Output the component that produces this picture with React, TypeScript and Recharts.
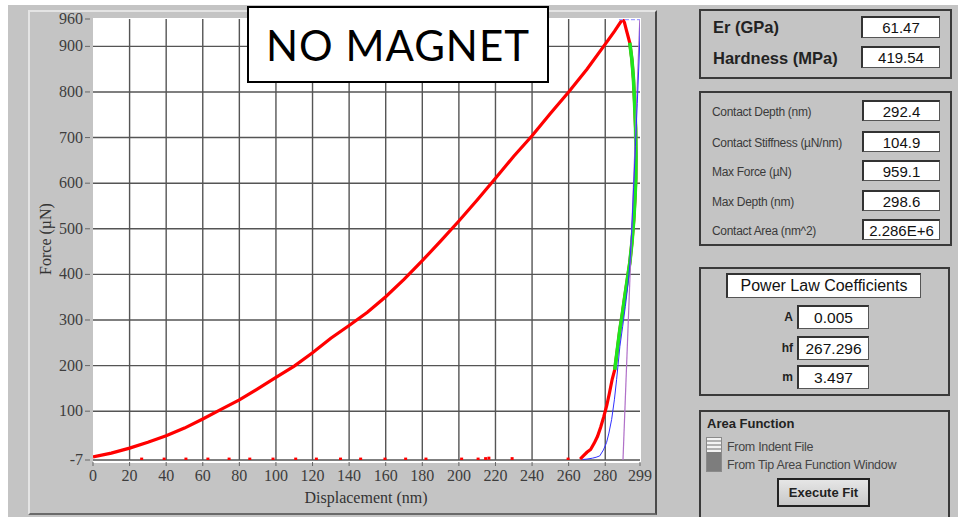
import React from 'react';
import { ComposedChart, Line, Scatter, XAxis, YAxis, CartesianGrid } from 'recharts';

// loading curve (red), displacement nm / force uN
const loadX = [0, 10, 20, 30, 40, 50, 60, 70, 80, 90, 100, 110, 120, 130, 140, 150, 160, 170, 180, 190, 200, 210, 220, 230, 240, 250, 260, 270, 280, 285, 289.5];
const loadF = [0, 8, 19, 32, 46, 63, 83, 104, 125, 149, 174, 199, 228, 260, 288, 317, 351, 389, 430, 473, 517, 563, 611, 659, 704, 753, 800, 850, 905, 933, 960];

// unloading: top of the peak, fitted window (green), tail
const peakX = [289.5, 290.5, 291.6, 292.6];
const peakF = [960, 952, 935, 920];
const greenX = [293.4, 294.6, 295.4, 296.0, 296.6, 296.8, 296.7, 296.2, 295.6, 294.6, 293.4, 292.1, 290.7, 289.4, 288.0, 286.6, 285.2];
const greenF = [908, 870, 830, 780, 720, 660, 610, 563, 520, 470, 425, 390, 352, 315, 279, 235, 191];
const tailX = [283.8, 282.3, 280.8, 279.2, 277.5, 275.8, 274, 272, 270, 268, 266.3];
const tailF = [170, 140, 112, 88, 65, 45, 30, 16, 10, 2, -5];

// stray points near zero force
const dotX = [26.6, 38.9, 50.8, 62.8, 74.4, 85.7, 98.4, 110.8, 122.1, 135.3, 146.3, 159.6, 170.9, 182, 201.5, 210.5, 214.6, 216.4, 229.1, 259.7];
const dotF = [-5, -5, -5, -5, -5, -5, -5, -5, -5, -5, -5, -5, -5, -5, -5, -5, -4, -3, -4, -5];

// power law fit (blue)
const fitX = [267.5, 270, 273, 275, 277, 279, 280.7, 282, 283.5, 285, 286.2, 288, 289.5, 291, 292.5, 293.5, 294.4, 295.5, 296.5, 297.5, 298.5, 299.3];
const fitF = [-6, -5, -3, -1, 2, 15, 31, 52, 82, 125, 169, 242, 285, 330, 380, 425, 491, 590, 680, 775, 870, 959];

// stiffness tangent (purple)
const tanX = [289.7, 298.9];
const tanF = [-7, 960];

// max force marker (light blue)
const maxX = [287.5, 299];
const maxF = [959, 959];

const xTicks = [0, 20, 40, 60, 80, 100, 120, 140, 160, 180, 200, 220, 240, 260, 280, 299];
const yTicks = [-7, 100, 200, 300, 400, 500, 600, 700, 800, 900, 960];

const statLabels = ['Contact Depth (nm)', 'Contact Stiffness (µN/nm)', 'Max Force (µN)', 'Max Depth (nm)', 'Contact Area (nm^2)'];
const statValues = ['292.4', '104.9', '959.1', '298.6', '2.286E+6'];
const statTops = [100, 131, 160, 190, 219];

const coefLabels = ['A', 'hf', 'm'];
const coefValues = ['0.005', '267.296', '3.497'];
const coefTops = [305, 336, 365];

const pts = (xs: number[], ys: number[]) => xs.map((x, i) => ({ x, y: ys[i] }));

const loadData = pts(loadX, loadF);
const unloadData = [...pts(peakX, peakF), ...pts(greenX, greenF), ...pts(tailX, tailF)];
const greenData = pts(greenX, greenF);
const dotData = pts(dotX, dotF);
const fitData = pts(fitX, fitF);
const tanData = pts(tanX, tanF);
const maxData = pts(maxX, maxF);

const serif = '"Liberation Serif", "Times New Roman", serif';
const sans = '"Liberation Sans", Arial, sans-serif';
const GRAY = '#c4c4c4';

const YTick = (props: any) => {
  const { x, y, payload } = props;
  return (
    <g>
      <line x1={x - 8} x2={x - 3} y1={y} y2={y} stroke="#666" strokeWidth={1} />
      <text x={x - 10} y={y} dy={5} textAnchor="end" fontSize={16} fontFamily={serif} fill="#3d3d3d">
        {payload.value}
      </text>
    </g>
  );
};

const XTick = (props: any) => {
  const { x, y, payload } = props;
  return (
    <g>
      <line x1={x} x2={x} y1={y + 2} y2={y + 6} stroke="#666" strokeWidth={1} />
      <text x={x} y={y + 21} textAnchor="middle" fontSize={16} fontFamily={serif} fill="#3d3d3d">
        {payload.value}
      </text>
    </g>
  );
};

const SmallDot = (props: any) => {
  const { cx, cy } = props;
  return <rect x={cx - 1.5} y={cy - 1.5} width={3} height={3} fill="#f00" />;
};

const box: React.CSSProperties = {
  position: 'absolute',
  background: '#fff',
  borderTop: '2px solid #333',
  borderLeft: '2px solid #333',
  borderRight: '1px solid #555',
  borderBottom: '1px solid #555',
  boxSizing: 'border-box',
  display: 'flex',
  alignItems: 'center',
  justifyContent: 'center',
  fontFamily: sans,
  color: '#111',
};

const panel: React.CSSProperties = {
  position: 'absolute',
  border: '2px solid #3a3a3a',
  boxSizing: 'border-box',
};

export default function App() {
  return (
    <div style={{ position: 'absolute', left: 0, top: 0, width: 958, height: 517, background: '#fff', overflow: 'hidden' }}>
      {/* grey backdrop */}
      <div style={{ position: 'absolute', left: 8, top: 5, width: 950, height: 512, background: GRAY }} />
      {/* left panel frame */}
      <div style={{ position: 'absolute', left: 28, top: 10, width: 629, height: 505, boxSizing: 'border-box', borderTop: '2px solid #e4e4e4', borderLeft: '2px solid #e4e4e4', borderRight: '2px solid #4a4a4a', borderBottom: '2px solid #6a6a6a' }} />
      {/* plot background */}
      <div style={{ position: 'absolute', left: 93, top: 18, width: 548, height: 445, background: '#fff' }} />

      <div style={{ position: 'absolute', left: 0, top: 0 }}>
        <ComposedChart width={655} height={517} margin={{ top: 19, right: 15, bottom: 0, left: 0 }}>
          <CartesianGrid
            stroke="#555"
            strokeWidth={1.4}
            horizontalValues={[-7, 100, 200, 300, 400, 500, 600, 700, 800, 900]}
            verticalValues={[20, 40, 60, 80, 100, 120, 140, 160, 180, 200, 220, 240, 260, 280]}
          />
          <XAxis
            type="number"
            dataKey="x"
            domain={[0, 299]}
            ticks={xTicks}
            interval={0}
            allowDataOverflow
            height={57}
            tickSize={0}
            tickMargin={0}
            axisLine={false}
            tick={<XTick />}
          />
          <YAxis
            type="number"
            dataKey="y"
            domain={[-7, 960]}
            ticks={yTicks}
            interval={0}
            allowDataOverflow
            width={93}
            tickSize={0}
            tickMargin={0}
            axisLine={false}
            tick={<YTick />}
          />
          <Line data={loadData} dataKey="y" type="linear" stroke="#f00" strokeWidth={3.2} dot={false} isAnimationActive={false} />
          <Line data={unloadData} dataKey="y" type="linear" stroke="#f00" strokeWidth={3.2} dot={false} isAnimationActive={false} />
          <Scatter data={dotData} dataKey="y" shape={<SmallDot />} isAnimationActive={false} />
          <Line data={greenData} dataKey="y" type="linear" stroke="#1ee61e" strokeWidth={3.6} dot={false} isAnimationActive={false} />
          <Line data={tanData} dataKey="y" type="linear" stroke="#b070c8" strokeWidth={1.2} dot={false} isAnimationActive={false} />
          <Line data={fitData} dataKey="y" type="linear" stroke="#3030ff" strokeWidth={1} dot={false} isAnimationActive={false} />
          <Line data={maxData} dataKey="y" type="linear" stroke="#a0a0ff" strokeWidth={1.5} strokeDasharray="4 2" dot={false} isAnimationActive={false} />
        </ComposedChart>
      </div>

      {/* axis titles */}
      <div style={{ position: 'absolute', left: 266, top: 489, width: 200, textAlign: 'center', fontFamily: serif, fontSize: 16, color: '#333' }}>
        Displacement (nm)
      </div>
      <div style={{ position: 'absolute', left: 46, top: 240, width: 0, height: 0 }}>
        <div style={{ position: 'absolute', left: -60, top: -10, width: 120, textAlign: 'center', fontFamily: serif, fontSize: 16, color: '#333', transform: 'rotate(-90deg)', whiteSpace: 'nowrap' }}>
          Force (µN)
        </div>
      </div>

      {/* annotation */}
      <div style={{ position: 'absolute', left: 247, top: 6, width: 302, height: 77, boxSizing: 'border-box', border: '2px solid #000', background: '#fff', display: 'flex', alignItems: 'center', justifyContent: 'center', fontFamily: 'Lato, "Noto Sans", sans-serif', fontSize: 42, letterSpacing: 1, color: '#000' }}>
        NO MAGNET
      </div>

      {/* results panel */}
      <div style={{ ...panel, left: 699, top: 9, width: 253, height: 70 }} />
      <div style={{ position: 'absolute', left: 713, top: 18, fontFamily: sans, fontWeight: 'bold', fontSize: 16.5, color: '#222' }}>Er (GPa)</div>
      <div style={{ position: 'absolute', left: 713, top: 49, fontFamily: sans, fontWeight: 'bold', fontSize: 16.5, color: '#222' }}>Hardness (MPa)</div>
      <div style={{ ...box, left: 861, top: 16, width: 79, height: 22, fontSize: 15 }}>61.47</div>
      <div style={{ ...box, left: 861, top: 46, width: 79, height: 22, fontSize: 15 }}>419.54</div>

      <div style={{ ...panel, left: 699, top: 91, width: 253, height: 155 }} />
      {statLabels.map((l, i) => (
        <div key={l} style={{ position: 'absolute', left: 712, top: statTops[i] + 5, fontFamily: sans, fontSize: 12, letterSpacing: -0.3, color: '#3a3a3a', whiteSpace: 'nowrap' }}>
          {l}
        </div>
      ))}
      {statValues.map((v, i) => (
        <div key={v} style={{ ...box, left: 862, top: statTops[i], width: 78, height: 21, fontSize: 15 }}>
          {v}
        </div>
      ))}

      <div style={{ ...panel, left: 699, top: 267, width: 251, height: 129 }} />
      <div style={{ ...box, left: 726, top: 273, width: 195, height: 25, fontSize: 16 }}>Power Law Coefficients</div>
      {coefLabels.map((l, i) => (
        <div key={l} style={{ position: 'absolute', left: 753, width: 40, top: coefTops[i] + 5, textAlign: 'right', fontFamily: sans, fontWeight: 'bold', fontSize: 12, color: '#222' }}>
          {l}
        </div>
      ))}
      {coefValues.map((v, i) => (
        <div key={v} style={{ ...box, left: 797, top: coefTops[i], width: 72, height: 24, fontSize: 15.5 }}>
          {v}
        </div>
      ))}

      <div style={{ ...panel, left: 699, top: 410, width: 251, height: 120 }} />
      <div style={{ position: 'absolute', left: 707, top: 416, fontFamily: sans, fontWeight: 'bold', fontSize: 13, color: '#222' }}>Area Function</div>
      <div style={{ position: 'absolute', left: 706, top: 437, width: 16, height: 35, background: '#7d7d7d', border: '1px solid #8a8a8a', boxSizing: 'border-box' }}>
        <div style={{ position: 'absolute', left: 0, top: 0, width: 14, height: 14, background: 'repeating-linear-gradient(#f2f2f2 0px, #f2f2f2 2px, #b0b0b0 2px, #b0b0b0 4px)' }} />
      </div>
      <div style={{ position: 'absolute', left: 727, top: 440, fontFamily: sans, fontSize: 12.5, letterSpacing: -0.3, color: '#444' }}>From Indent File</div>
      <div style={{ position: 'absolute', left: 727, top: 458, fontFamily: sans, fontSize: 12.5, letterSpacing: -0.3, color: '#444', whiteSpace: 'nowrap' }}>From Tip Area Function Window</div>
      <div style={{ position: 'absolute', left: 777, top: 478, width: 93, height: 29, boxSizing: 'border-box', border: '2px solid #222', background: 'linear-gradient(#e6e6e6, #c8c8c8)', display: 'flex', alignItems: 'center', justifyContent: 'center', fontFamily: sans, fontWeight: 'bold', fontSize: 13, color: '#222' }}>
        Execute Fit
      </div>
    </div>
  );
}
